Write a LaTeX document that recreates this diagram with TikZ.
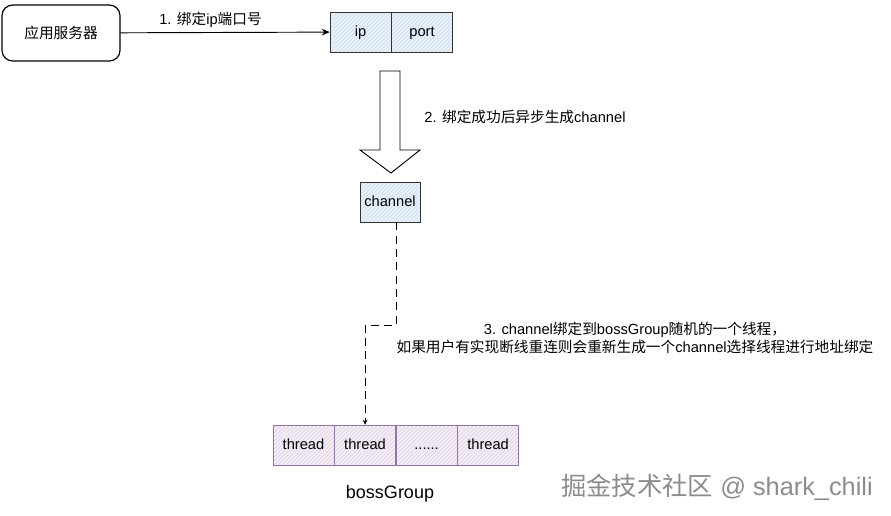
\documentclass[tikz,border=0pt]{standalone}
\usepackage{fontspec}
\setmainfont{Liberation Sans}
\newfontfamily\cjk{Noto Sans CJK SC}
\newcommand{\zh}[1]{{\cjk #1}}
\usetikzlibrary{positioning, arrows.meta, patterns}
\tikzset{>=stealth}
\definecolor{cellfill}{HTML}{EAF1FA}
\definecolor{cellhatch}{HTML}{C9DAF0}
\definecolor{thrline}{HTML}{9673A6}
\definecolor{thrfill}{HTML}{F3EEF5}
\definecolor{thrhatch}{HTML}{DCCFE2}
\tikzset{
  server/.style={draw, line width=0.9pt, rounded corners=8pt, minimum width=88.5pt, minimum height=42pt},
  cell/.style={draw=black!80, inner sep=0pt, minimum width=45.75pt, minimum height=30pt,
    text height=1.6ex, text depth=0.4ex,
    preaction={fill=cellfill}, pattern=north east lines, pattern color=cellhatch},
  thr/.style={draw=thrline, inner sep=0pt, minimum width=45.75pt, minimum height=30pt,
    text height=1.6ex, text depth=0.4ex,
    preaction={fill=thrfill}, pattern=north east lines, pattern color=thrhatch},
  flow/.style={->, dash pattern=on 6pt off 4pt, line width=0.7pt},
}
\begin{document}
\begin{tikzpicture}[x=0.75pt, y=-0.75pt, font=\fontsize{11}{14}\selectfont]
  \useasboundingbox (0,0) rectangle (891,515);
  % server and ip:port
  \node[server] (server) at (61,33) {\zh{应用服务器}};
  \node[cell] (ip) at (360.5,32) {ip};
  \node[cell, right=0pt of ip] (port) {port};
  \draw[-{Stealth[length=6pt,width=5pt]}, line width=0.7pt] (server) -- node[above, pos=0.43] {1. \zh{绑定}ip\zh{端口号}} (ip);
  % block arrow down to channel
  \draw[line width=0.7pt, fill=white] (380,71) -- (400,71) -- (400,150) -- (420,150) -- (391,173) -- (360,150) -- (380,150) -- cycle;
  \node (step2) at (525,117) {2. \zh{绑定成功后异步生成}channel};
  \node[cell, minimum width=45pt] (channel) at (390,202) {channel};
  % bossGroup threads
  \node[thr] (t1) at (303.5,445) {thread};
  \node[thr, right=0pt of t1] (t2) {thread};
  \node[thr, right=0pt of t2] (t3) {......};
  \node[thr, right=0pt of t3] (t4) {thread};
  \node[font=\fontsize{13.5}{16}\selectfont] (boss) at (390,494) {bossGroup};
  \coordinate (cs) at ([xshift=4.5pt]channel.south);
  \draw[flow] (cs) -- (cs |- 0,325) -| (t2.north);
  \node[align=center] (step3) at (635,338) {3. channel\zh{绑定到}bossGroup\zh{随机的一个线程，}\\
    \zh{如果用户有实现断线重连则会重新生成一个}channel\zh{选择线程进行地址绑定}};
  % watermark
  \node[text=black!45, font=\fontsize{19}{22}\selectfont] (mark) at (717,487) {\zh{掘金技术社区} @ shark\_chili};
\end{tikzpicture}
\end{document}
